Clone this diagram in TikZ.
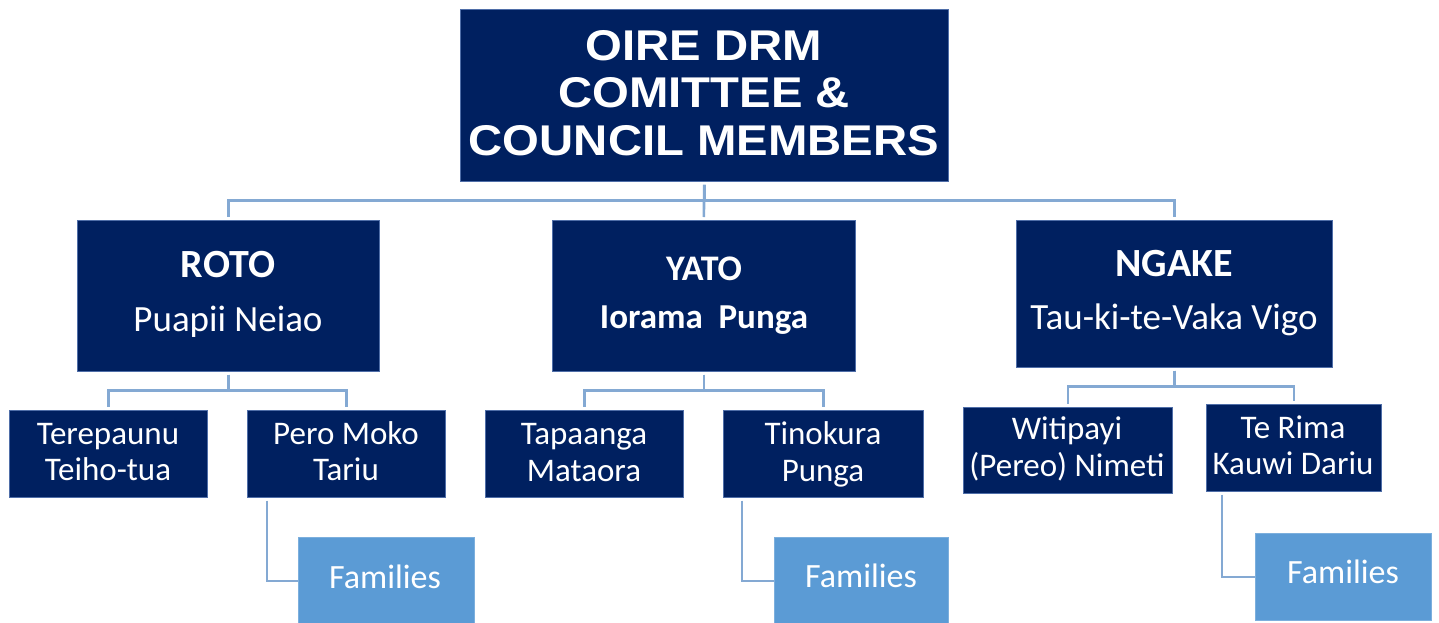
\documentclass[tikz,border=0pt]{standalone}
\usepackage{fontspec}
\newfontfamily\headfont[FakeStretch=1.1]{Liberation Sans}
\newfontfamily\bodyfont{Carlito}
\definecolor{navy}{HTML}{002060}
\definecolor{famblue}{HTML}{5B9BD5}
\definecolor{linkblue}{HTML}{84A9D3}
\definecolor{edgeblue}{HTML}{4F6EA8}
\begin{document}
\begin{tikzpicture}[x=1pt,y=-1pt,
  navybox/.style={rectangle,fill=navy,draw=edgeblue,line width=0.6pt,inner sep=0pt,anchor=north west},
  fambox/.style={rectangle,fill=famblue,draw=famblue!80!white,line width=0.6pt,inner sep=0pt,anchor=north west},
  link/.style={draw=linkblue,line width=2.6pt,shorten <=3pt,shorten >=3pt},
  txt/.style={text=white,anchor=base,inner sep=0pt},
  headtxt/.style={txt,font=\headfont\bfseries\fontsize{43}{48}\selectfont},
  bigtxt/.style={txt,font=\bodyfont\bfseries\fontsize{40}{48}\selectfont},
  nametxt/.style={txt,font=\bodyfont\fontsize{37}{44}\selectfont},
  childtxt/.style={txt,font=\bodyfont\fontsize{33}{40}\selectfont},
  famtxt/.style={txt,font=\bodyfont\fontsize{34}{40}\selectfont}]
\useasboundingbox (0,0) rectangle (1439,622);
\clip (0,0) rectangle (1439,622);

% top level
\node[navybox,minimum width=488,minimum height=172] (top) at (460,9) {};
\node[headtxt] (top1) at (704,60) {OIRE DRM};
\node[headtxt] (top2) at (704,107) {COMITTEE \&};
\node[headtxt] (top3) at (704,155) {COUNCIL MEMBERS};

% districts
\node[navybox,minimum width=302,minimum height=151] (roto) at (77,220) {};
\node[navybox,minimum width=303,minimum height=151] (yato) at (552,220) {};
\node[navybox,minimum width=316,minimum height=147] (ngake) at (1016,220) {};

\node[bigtxt] (rotoA) at (228,277) {ROTO};
\node[nametxt] (rotoB) at (228,331) {Puapii Neiao};
\node[bigtxt,font=\bodyfont\bfseries\fontsize{36}{44}\selectfont] (yatoA) at (704,280) {YATO};
\node[bigtxt,font=\bodyfont\bfseries\fontsize{35}{44}\selectfont] (yatoB) at (704,328) {Iorama\ \ Punga};
\node[bigtxt] (ngakeA) at (1174,276) {NGAKE};
\node[nametxt] (ngakeB) at (1174,329) {Tau-ki-te-Vaka Vigo};

% members
\node[navybox,minimum width=198,minimum height=87] (tere) at (9,410) {};
\node[navybox,minimum width=198,minimum height=87] (pero) at (247,410) {};
\node[navybox,minimum width=198,minimum height=87] (tapa) at (485,410) {};
\node[navybox,minimum width=200,minimum height=87] (tino) at (723,410) {};
\node[navybox,minimum width=209,minimum height=86] (witi) at (963,407) {};
\node[navybox,minimum width=175,minimum height=87] (rima) at (1206,404) {};

\node[childtxt] (tere1) at (108,444) {Terepaunu};
\node[childtxt] (tere2) at (108,480) {Teiho-tua};
\node[childtxt] (pero1) at (346,444) {Pero Moko};
\node[childtxt] (pero2) at (346,480) {Tariu};
\node[childtxt] (tapa1) at (584,444) {Tapaanga};
\node[childtxt] (tapa2) at (584,481) {Mataora};
\node[childtxt] (tino1) at (823,444) {Tinokura};
\node[childtxt] (tino2) at (823,481) {Punga};
\node[childtxt] (witi1) at (1067,439) {Witipayi};
\node[childtxt] (witi2) at (1067,476) {(Pereo) Nimeti};
\node[childtxt] (rima1) at (1293,438) {Te Rima};
\node[childtxt] (rima2) at (1293,474) {Kauwi Dariu};

% families
\node[fambox,minimum width=176,minimum height=88] (fam1) at (298,537) {};
\node[fambox,minimum width=174,minimum height=88] (fam2) at (774,537) {};
\node[fambox,minimum width=176,minimum height=87] (fam3) at (1255,533) {};
\node[famtxt] (fam1t) at (385,588) {Families};
\node[famtxt] (fam2t) at (861,587) {Families};
\node[famtxt] (fam3t) at (1343,583) {Families};

% connectors
\draw[link] (top.south) -- ++(0,19) -| (roto.north);
\draw[link] (top.south) -- ++(0,19) -| (ngake.north);
\draw[link] (top.south) -- (yato.north);

\draw[link] (roto.south) -- ++(0,19) -| (tere.north);
\draw[link] (roto.south) -- ++(0,19) -| (pero.north);
\draw[link] (yato.south) -- ++(0,19) -| (tapa.north);
\draw[link] (yato.south) -- ++(0,19) -| (tino.north);
\draw[link] (ngake.south) -- ++(0,19) -| (witi.north);
\draw[link] (ngake.south) -- ++(0,19) -| (rima.north);

\draw[link,line width=2pt,shorten >=0pt] ([xshift=20pt]pero.south west) |- (fam1.west);
\draw[link,line width=2pt,shorten >=0pt] ([xshift=19pt]tino.south west) |- (fam2.west);
\draw[link,line width=2pt,shorten >=0pt] ([xshift=16pt]rima.south west) |- (fam3.west);
\end{tikzpicture}
\end{document}
